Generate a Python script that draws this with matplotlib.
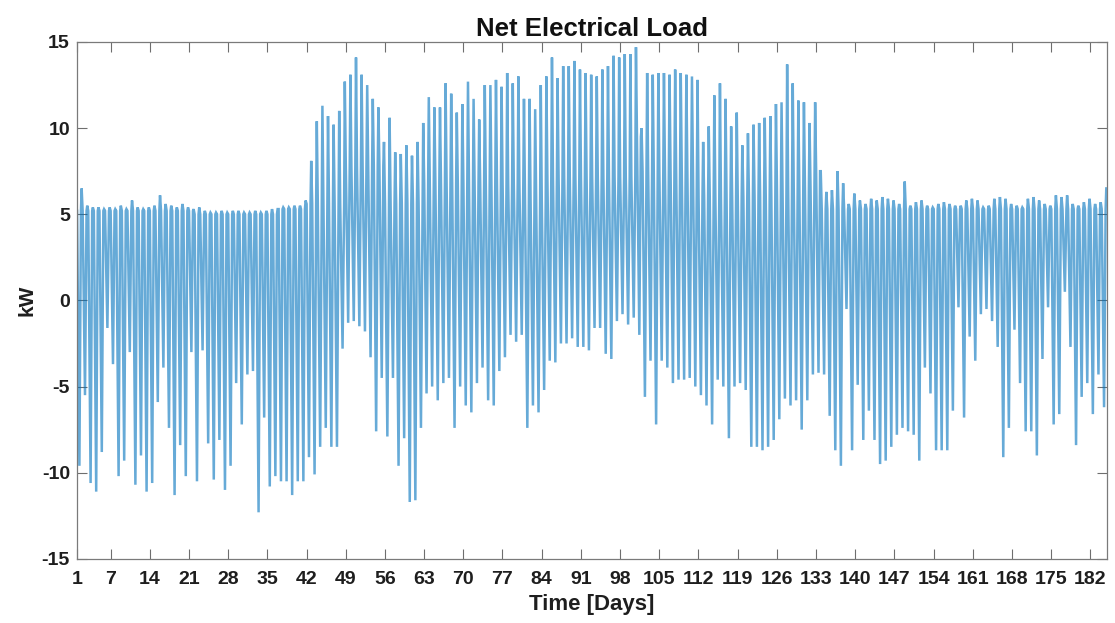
import numpy as np
import matplotlib
matplotlib.use("Agg")
import matplotlib.pyplot as plt

# ---- data (kW), one value per day ----
day_min = [
    -9.6, -5.5, -10.6, -11.1, -8.8, -1.6, -3.7, -10.2, -9.3, -3.0,
    -10.7, -9.0, -11.1, -10.6, -5.9, -3.9, -7.4, -11.3, -8.4, -10.2,
    -3.0, -10.5, -2.9, -8.3, -10.4, -8.1, -11.0, -9.6, -4.8, -7.2,
    -4.3, -4.1, -12.3, -6.8, -10.8, -10.2, -10.5, -10.5, -11.3, -10.5,
    -10.5, -9.1, -10.1, -8.5, -7.4, -8.5, -8.5, -2.8, -1.3, -1.2,
    -1.5, -1.8, -3.3, -7.6, -4.5, -7.9, -4.5, -9.6, -8.0, -11.7,
    -11.6, -7.4, -5.4, -5.0, -5.8, -4.8, -4.5, -7.4, -5.0, -6.1,
    -6.5, -4.8, -3.9, -5.8, -6.1, -4.1, -3.3, -2.0, -2.4, -2.0,
    -7.4, -6.1, -6.5, -5.2, -3.5, -3.6, -2.5, -2.5, -2.2, -2.7,
    -2.7, -2.9, -1.6, -1.6, -3.1, -3.4, -1.2, -0.8, -1.4, -1.0,
    -2.0, -5.6, -3.5, -7.2, -3.5, -3.9, -4.8, -4.6, -4.6, -4.5,
    -5.0, -5.5, -6.1, -7.2, -4.6, -5.0, -8.0, -5.0, -4.8, -5.2,
    -8.5, -8.5, -8.7, -8.5, -8.1, -6.9, -5.7, -6.1, -5.8, -7.5,
    -5.8, -4.3, -4.2, -4.3, -6.7, -8.7, -9.6, -0.5, -8.7, -4.9,
    -8.1, -6.4, -8.1, -9.5, -9.3, -8.5, -7.8, -7.4, -7.6, -7.8,
    -9.3, -3.9, -5.4, -8.7, -8.7, -8.7, -6.4, -0.4, -6.8, -2.1,
    -3.5, -0.8, -0.5, -1.2, -2.7, -9.1, -7.4, -1.7, -4.8, -7.6,
    -7.6, -9.0, -3.4, -0.4, -7.2, -6.6, 0.5, -2.7, -8.4, -5.6,
    -4.8, -6.6, -4.3, -6.2,
]

day_max = [
    6.5, 5.5, 5.4, 5.4, 5.3, 5.4, 5.3, 5.5, 5.3, 5.8,
    5.4, 5.3, 5.4, 5.5, 6.1, 5.6, 5.5, 5.4, 5.6, 5.4,
    5.3, 5.4, 5.2, 5.1, 5.1, 5.2, 5.1, 5.2, 5.2, 5.1,
    5.1, 5.2, 5.1, 5.2, 5.3, 5.3, 5.4, 5.4, 5.5, 5.5,
    5.8, 8.1, 10.4, 11.3, 10.7, 10.2, 11.0, 12.7, 13.1, 14.1,
    13.1, 12.5, 11.7, 11.2, 9.2, 10.6, 8.6, 8.5, 9.0, 8.4,
    9.2, 10.3, 11.8, 11.2, 11.2, 12.6, 12.0, 10.9, 11.4, 12.7,
    11.7, 10.5, 12.5, 12.5, 12.8, 12.4, 13.2, 12.6, 13.0, 11.7,
    11.7, 11.1, 12.5, 13.0, 14.1, 12.9, 13.6, 13.6, 13.9, 13.4,
    13.2, 13.1, 13.0, 13.4, 13.6, 14.2, 14.1, 14.3, 14.3, 14.7,
    10.0, 13.2, 13.1, 13.2, 13.2, 13.1, 13.4, 13.2, 13.1, 13.0,
    12.8, 9.2, 10.1, 11.9, 12.6, 11.7, 10.1, 10.9, 9.0, 9.7,
    10.2, 10.3, 10.6, 10.7, 11.4, 11.5, 13.7, 12.6, 11.6, 11.5,
    10.3, 11.5, 7.5, 6.3, 6.4, 7.5, 6.8, 5.6, 6.2, 5.8,
    5.6, 5.9, 5.8, 6.0, 5.9, 5.8, 5.6, 6.9, 5.5, 5.7,
    5.8, 5.5, 5.4, 5.6, 5.7, 5.6, 5.5, 5.5, 5.8, 5.9,
    5.8, 5.4, 5.5, 5.9, 6.0, 5.9, 5.6, 5.5, 5.4, 5.9,
    6.0, 5.8, 5.6, 5.5, 6.1, 6.0, 6.1, 5.6, 5.5, 5.7,
    5.9, 5.6, 5.7, 6.5,
]

day_base = [
    5.2, 5.2, 5.2, 5.2, 5.2, 5.2, 5.2, 5.2, 5.2, 5.2,
    5.2, 5.2, 5.2, 5.2, 5.2, 5.2, 5.2, 5.2, 5.2, 5.2,
    5.2, 5.0, 5.0, 5.0, 5.0, 5.0, 5.0, 5.0, 5.0, 5.0,
    5.0, 5.0, 5.0, 5.0, 5.0, 5.0, 5.3, 5.3, 5.3, 5.3,
    5.3, 5.6, 5.6, 5.6, 5.6, 5.6, 5.6, 5.6, 7.8, 7.8,
    7.8, 7.8, 7.8, 7.8, 7.8, 5.6, 5.6, 5.6, 5.6, 5.6,
    5.6, 5.6, 6.8, 6.8, 6.8, 6.8, 6.8, 6.8, 6.8, 6.8,
    6.8, 6.8, 6.8, 6.8, 6.8, 6.8, 6.8, 6.8, 6.8, 6.8,
    5.8, 5.8, 5.8, 5.8, 7.2, 7.2, 7.2, 7.2, 7.2, 7.2,
    7.2, 7.2, 7.2, 7.2, 7.2, 7.2, 7.2, 7.2, 7.2, 7.2,
    9.5, 7.5, 7.5, 7.5, 7.5, 7.5, 7.5, 7.5, 7.5, 7.5,
    7.5, 6.0, 6.0, 6.0, 6.0, 6.0, 6.0, 6.0, 6.0, 6.0,
    6.0, 6.0, 6.0, 6.0, 6.0, 6.5, 6.5, 6.5, 6.5, 6.5,
    6.5, 6.5, 7.5, 5.3, 5.3, 5.3, 5.3, 5.3, 5.3, 5.3,
    5.3, 5.3, 5.3, 5.3, 5.3, 5.3, 5.3, 5.3, 5.3, 5.3,
    5.3, 5.3, 5.3, 5.3, 5.3, 5.3, 5.3, 5.3, 5.3, 5.3,
    5.3, 5.3, 5.3, 5.3, 5.3, 5.3, 5.3, 5.3, 5.3, 5.3,
    5.3, 5.3, 5.3, 5.3, 5.3, 5.3, 5.3, 5.3, 5.3, 5.3,
    5.3, 5.3, 5.3, 5.3,
]

x_ticks = [1, 7, 14, 21, 28, 35, 42, 49, 56, 63, 70, 77, 84, 91, 98, 105,
           112, 119, 126, 133, 140, 147, 154, 161, 168, 175, 182]
y_ticks = [-15, -10, -5, 0, 5, 10, 15]

# ---- build the line: per day night -> midday minimum -> evening maximum ----
days = np.arange(1, len(day_min) + 1, dtype=float)
phase = np.array([0.02, 0.44, 0.72, 0.84])
t = (days[:, None] + phase[None, :]).ravel()
v = np.column_stack([day_base, day_min, day_base, day_max]).ravel()

plt.rcParams['font.family'] = ['Liberation Sans', 'DejaVu Sans']
plt.rcParams['font.weight'] = 'bold'
plt.rcParams['axes.unicode_minus'] = False

fig = plt.figure(figsize=(11.15, 6.23), dpi=100)
ax = fig.add_axes([0.069, 0.103, 0.924, 0.8296])

ax.plot(t, v, color='#0072BD', linewidth=1.8, alpha=0.6,
        solid_joinstyle='miter')

ax.set_xlim(1, 185)
ax.set_ylim(-15, 15)
ax.set_xticks(x_ticks)
ax.set_yticks(y_ticks)
ax.tick_params(direction='in', length=7, width=0.8, top=True, right=True,
               colors='#6e6e6e', labelcolor='#1e1e1e', labelsize=14)
ax.tick_params(axis='x', pad=9)
ax.tick_params(axis='y', pad=5)
for lab in ax.get_xticklabels() + ax.get_yticklabels():
    lab.set_fontweight('bold')
for sp in ax.spines.values():
    sp.set_color('#7a7a7a')
    sp.set_linewidth(0.9)

ax.set_title('Net Electrical Load', fontsize=18.5, fontweight='bold',
             color='#111111', pad=4)
ax.set_xlabel('Time [Days]', fontsize=16, fontweight='bold',
              color='#1e1e1e', labelpad=4)
ax.set_ylabel('kW', fontsize=15, fontweight='bold', color='#1e1e1e',
              labelpad=4)

fig.savefig('out.png', dpi=100, facecolor='white')
